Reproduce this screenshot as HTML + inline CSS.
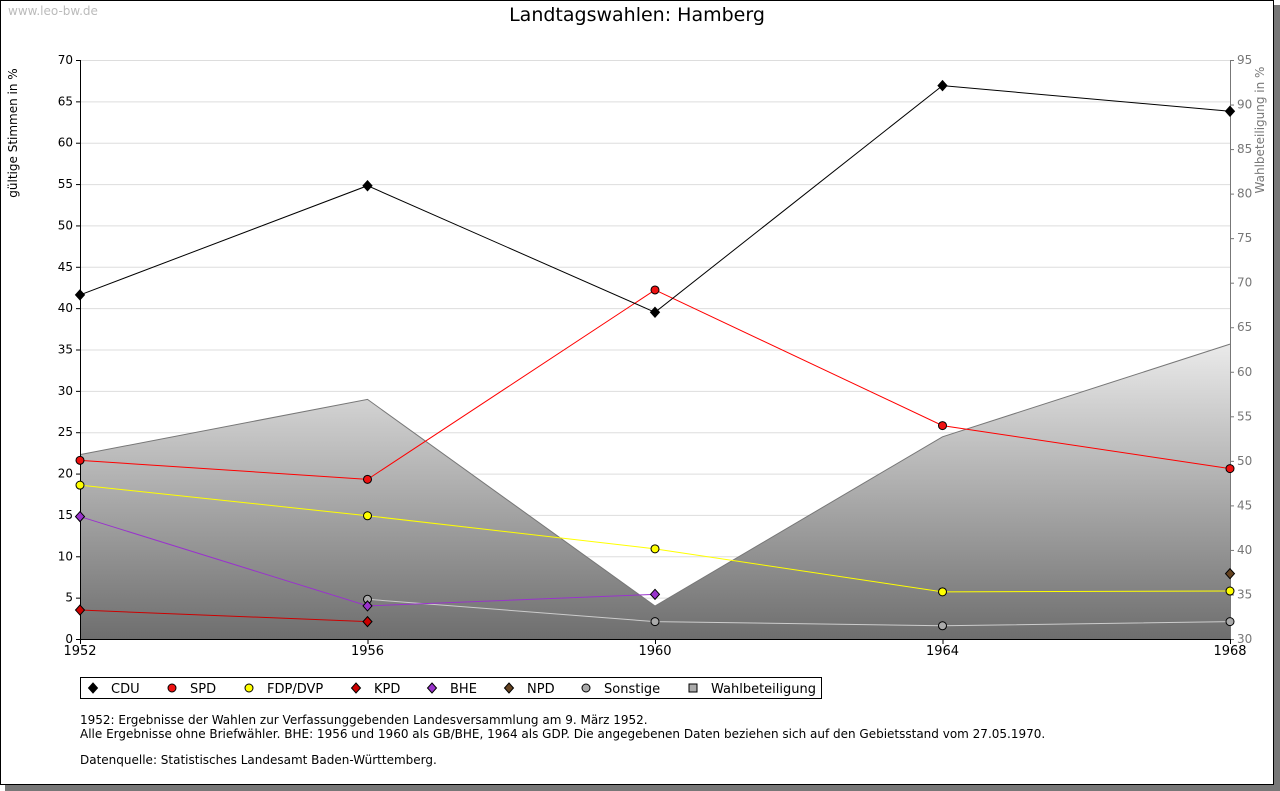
<!DOCTYPE html>
<html><head><meta charset="utf-8"><style>
body{margin:0;background:#fff;font-family:"DejaVu Sans","Liberation Sans",sans-serif;}
svg{display:block}
</style></head><body>
<svg id="c" width="1280" height="791" xmlns="http://www.w3.org/2000/svg" font-family="DejaVu Sans, Liberation Sans, sans-serif">
<defs>
<linearGradient id="g" x1="0" y1="60" x2="0" y2="639" gradientUnits="userSpaceOnUse">
<stop offset="0.45" stop-color="#f4f4f4"/><stop offset="1" stop-color="#6e6e6e"/></linearGradient>
</defs>
<rect x="5" y="5" width="1275" height="786" fill="#777"/>
<rect x="0.5" y="0.5" width="1273" height="784" fill="#fff" stroke="#000"/>
<text x="8" y="15" font-size="12" fill="#bbb">www.leo-bw.de</text>
<text x="637" y="21" font-size="19" text-anchor="middle">Landtagswahlen: Hamberg</text>
<text transform="translate(17,133) rotate(-90)" font-size="12" text-anchor="middle">gültige Stimmen in %</text>
<text transform="translate(1264,130) rotate(-90)" font-size="12" fill="#777" text-anchor="middle">Wahlbeteiligung in %</text>
<g id="plot"></g>
<rect x="80.5" y="677.5" width="741" height="21" fill="#fff" stroke="#000"/>
<g id="legend"></g>
<g font-size="12">
<text x="80" y="724">1952: Ergebnisse der Wahlen zur Verfassunggebenden Landesversammlung am 9. März 1952.</text>
<text x="80" y="738">Alle Ergebnisse ohne Briefwähler. BHE: 1956 und 1960 als GB/BHE, 1964 als GDP. Die angegebenen Daten beziehen sich auf den Gebietsstand vom 27.05.1970.</text>
<text x="80" y="764">Datenquelle: Statistisches Landesamt Baden-Württemberg.</text>
</g>
</svg>
<script>
const years=[1952,1956,1960,1964,1968];
const leftTicks=[0,5,10,15,20,25,30,35,40,45,50,55,60,65,70];
const rightTicks=[30,35,40,45,50,55,60,65,70,75,80,85,90,95];
const turnout=[50.7,56.9,33.7,52.7,63.1];
const cdu=[41.6,54.8,39.5,66.9,63.8];
const spd=[21.6,19.3,42.2,25.8,20.6];
const fdp=[18.6,14.9,10.9,5.7,5.8];
const kpd=[3.5,2.1,null,null,null];
const bhe=[14.8,4.0,5.4,null,null];
const npd=[null,null,null,null,7.9];
const sonst=[null,4.8,2.1,1.6,2.1];
const NS="http://www.w3.org/2000/svg";
const X0=80,X1=1230,Y0=639,Y1=60;
const x=y=>X0+(y-1952)/(1968-1952)*(X1-X0);
const yL=v=>Y0-v/70*(Y0-Y1);
const yR=v=>Y0-(v-30)/65*(Y0-Y1);
const plot=document.getElementById('plot');
function el(t,a,p){const e=document.createElementNS(NS,t);for(const k in a)e.setAttribute(k,a[k]);(p||plot).appendChild(e);return e;}
leftTicks.forEach(v=>{
 const g=el('line',{x1:X0,x2:X1,y1:yL(v)+.5,y2:yL(v)+.5,stroke:'#ddd'});
 
 
 el('line',{x1:X0-4,x2:X0,y1:yL(v)+.5,y2:yL(v)+.5,stroke:'#000'});
 const t=el('text',{x:X0-7,y:yL(v)+4,'font-size':12,'text-anchor':'end'});t.textContent=v;
 
 
});
rightTicks.forEach(v=>{
 el('line',{x1:X1,x2:X1+4,y1:yR(v)+.5,y2:yR(v)+.5,stroke:'#777'});
 const t=el('text',{x:X1+7,y:yR(v)+4,'font-size':12,fill:'#777'});t.textContent=v;
 
 
});
let d='M'+x(years[0])+','+Y0;years.forEach((yy,i)=>d+=' L'+x(yy)+','+yR(turnout[i]));d+=' L'+x(years[years.length-1])+','+Y0+'Z';
const area=el('path',{d:d,fill:'url(#g)',stroke:'none'});


let d2='';years.forEach((yy,i)=>d2+=(i?' L':'M')+x(yy)+','+yR(turnout[i]));
el('path',{d:d2,fill:'none',stroke:'#777'});
el('line',{x1:X0+.5,x2:X0+.5,y1:Y1,y2:Y0,stroke:'#000'});
el('line',{x1:X1+.5,x2:X1+.5,y1:Y1,y2:Y0,stroke:'#777'});
el('line',{x1:X0,x2:X1,y1:Y0+.5,y2:Y0+.5,stroke:'#000'});
years.forEach(yy=>{
 el('line',{x1:x(yy)+.5,x2:x(yy)+.5,y1:Y0,y2:Y0+5,stroke:'#000'});
 const t=el('text',{x:x(yy),y:Y0+16,'font-size':13,'text-anchor':'middle'});t.textContent=yy;
 
 
});
function marker(cx,cy,shape,fill,p){
 if(shape==='d') return el('path',{d:`M${cx},${cy-5} L${cx+4.5},${cy} L${cx},${cy+5} L${cx-4.5},${cy}Z`,fill:fill,stroke:'#000','stroke-width':1},p);
 return el('circle',{cx:cx,cy:cy,r:4,fill:fill,stroke:'#000','stroke-width':1},p);
}
const series=[
 ['sonstige',sonst,'#ccc','#aaa','c'],
 ['npd',npd,'#654321','#654321','d'],
 ['bhe',bhe,'#9933cc','#9933cc','d'],
 ['kpd',kpd,'#cc0000','#cc0000','d'],
 ['fdp',fdp,'#ffff00','#ffff00','c'],
 ['spd',spd,'#ff0000','#ee1111','c'],
 ['cdu',cdu,'#000','#000','d']];
series.forEach(([n,vals,col,fill,sh])=>{
 let dd='',first=true;
 vals.forEach((v,i)=>{if(v==null)return;dd+=(first?'M':' L')+x(years[i])+','+yL(v);first=false;});
 const ln=el('path',{d:dd,fill:'none',stroke:col,'stroke-width':1});
 
 
 vals.forEach((v,i)=>{if(v==null)return;const m=marker(x(years[i]),yL(v),sh,fill);
  
  });
});
const leg=document.getElementById('legend');
const items=[['CDU','d','#000',93],['SPD','c','#ee1111',172],['FDP/DVP','c','#ffff00',249],['KPD','d','#cc0000',356],['BHE','d','#9933cc',432],['NPD','d','#654321',509],['Sonstige','c','#aaa',586],['Wahlbeteiligung','s','#aaa',693]];
items.forEach(([lab,sh,f,lx])=>{
 const g=el('g',{},leg);
 
 
 if(sh==='s') el('rect',{x:lx-4,y:684,width:8,height:8,fill:f,stroke:'#000'},g);
 else marker(lx,688,sh,f,g);
 const t=el('text',{x:lx+18,y:693,'font-size':13},g);t.textContent=lab;
});
</script>
</body></html>
